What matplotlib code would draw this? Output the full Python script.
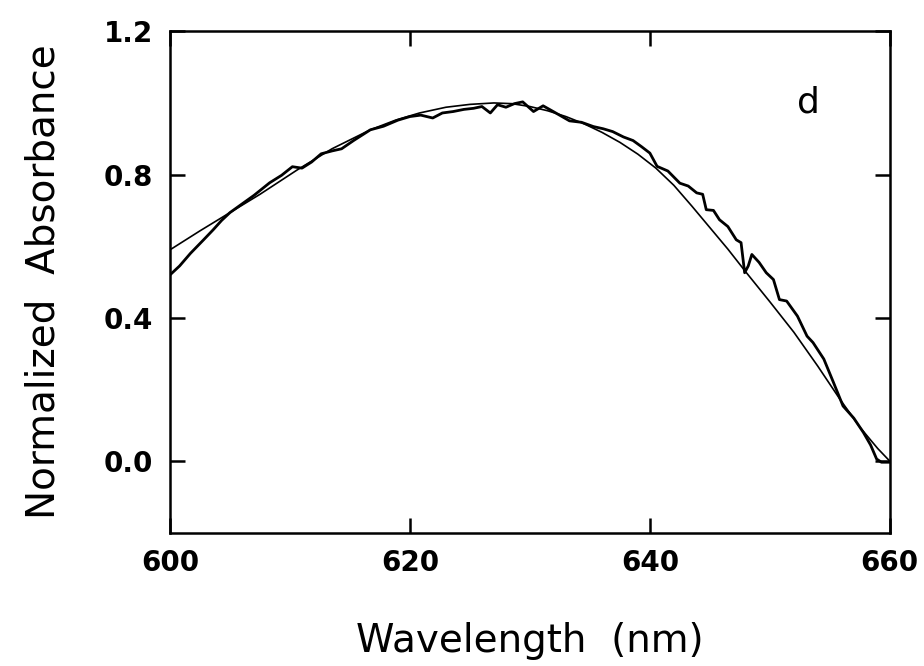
import matplotlib.pyplot as plt
import numpy as np

# measured spectrum (noisy trace)
wl_data = [600.0, 600.8, 601.7, 602.8, 603.6, 604.3, 605.0, 606.0, 607.0, 608.3,
           609.3, 610.2, 611.0, 611.8, 612.6, 613.5, 614.3, 615.3, 616.7, 617.8,
           619.0, 620.0, 620.9, 621.9, 622.7, 623.6, 624.5, 625.3, 626.0, 626.7,
           627.3, 628.0, 628.7, 629.4, 630.3, 631.1, 632.0, 633.3, 634.3, 635.3,
           636.1, 636.9, 637.8, 638.6, 639.3, 640.0, 640.6, 641.5, 642.5, 643.2,
           643.9, 644.4, 644.7, 645.3, 645.8, 646.5, 647.2, 647.6, 647.9, 648.2,
           648.5, 649.1, 649.7, 650.3, 650.8, 651.4, 652.3, 653.1, 653.6, 654.5,
           655.3, 656.1, 657.0, 657.8, 658.4, 658.9, 659.3, 660.0]
abs_data = [0.520, 0.545, 0.580, 0.618, 0.646, 0.672, 0.694, 0.718, 0.742, 0.777,
            0.798, 0.822, 0.818, 0.835, 0.858, 0.866, 0.872, 0.895, 0.925, 0.935,
            0.952, 0.962, 0.966, 0.958, 0.972, 0.976, 0.982, 0.985, 0.990, 0.972,
            0.995, 0.988, 0.998, 1.003, 0.976, 0.992, 0.975, 0.950, 0.946, 0.934,
            0.928, 0.920, 0.905, 0.895, 0.878, 0.860, 0.823, 0.810, 0.776, 0.768,
            0.749, 0.745, 0.702, 0.700, 0.674, 0.655, 0.618, 0.610, 0.526, 0.545,
            0.577, 0.555, 0.526, 0.507, 0.451, 0.447, 0.405, 0.349, 0.331, 0.285,
            0.220, 0.154, 0.120, 0.080, 0.045, 0.006, -0.003, -0.003]

# fitted band shape (smooth line)
wl_fit = [600.0, 602.5, 605.0, 607.5, 610.6, 613.5, 616.7, 618.8, 620.8, 623.0,
          625.0, 627.0, 628.5, 630.0, 631.5, 633.0, 634.5, 636.0, 637.5, 639.0,
          640.5, 642.0, 643.5, 645.0, 646.5, 648.0, 650.0, 652.0, 654.0, 655.8,
          657.5, 659.0, 660.0]
abs_fit = [0.590, 0.643, 0.694, 0.745, 0.813, 0.872, 0.925, 0.952, 0.972, 0.988,
           0.996, 1.000, 0.998, 0.990, 0.978, 0.962, 0.942, 0.918, 0.890, 0.857,
           0.818, 0.770, 0.712, 0.652, 0.592, 0.528, 0.445, 0.360, 0.265, 0.175,
           0.095, 0.035, 0.000]

fig = plt.figure(figsize=(9.24, 6.66), dpi=100)
ax = fig.add_axes([0.184, 0.2, 0.779, 0.753])

ax.plot(wl_fit, abs_fit, color="black", lw=1.2)
ax.plot(wl_data, abs_data, color="black", lw=2.0)

ax.set_xlim(600, 660)
ax.set_ylim(-0.2, 1.2)
ax.set_xticks([600, 620, 640, 660])
ax.set_yticks([0.0, 0.4, 0.8, 1.2])
ax.set_yticklabels(["0.0", "0.4", "0.8", "1.2"])

for s in ax.spines.values():
    s.set_linewidth(1.8)
ax.tick_params(direction="in", length=11, width=1.8, top=True, right=True,
               labelsize=20, pad=12)
for lab in ax.get_xticklabels() + ax.get_yticklabels():
    lab.set_fontweight("bold")

ax.set_xlabel("Wavelength  (nm)", fontsize=28, labelpad=32)
ax.set_ylabel("Normalized  Absorbance", fontsize=28, labelpad=30)
ax.text(653.2, 1.0, "d", fontsize=26, ha="center", va="center")

fig.savefig("out.png", dpi=100)
